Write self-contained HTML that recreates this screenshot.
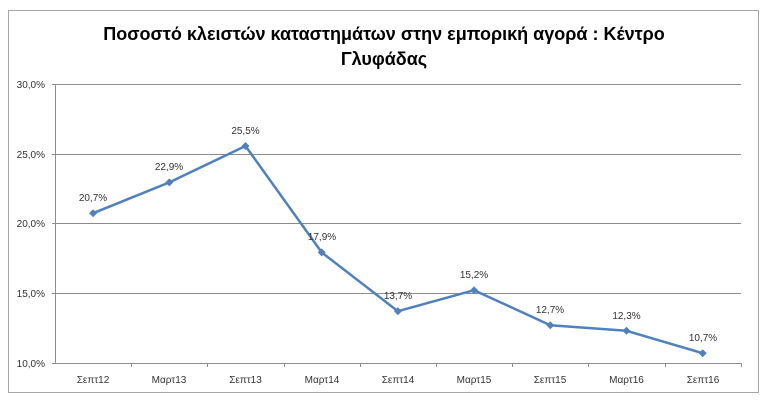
<!DOCTYPE html>
<html><head><meta charset="utf-8"><style>body{margin:0;background:#fff}svg{display:block}</style></head><body>
<svg width="768" height="412" xmlns="http://www.w3.org/2000/svg" font-family="Liberation Sans, DejaVu Sans, sans-serif">
<rect x="0" y="0" width="768" height="412" fill="#fff"/>
<rect x="8.5" y="10.5" width="750" height="382" fill="#fff" stroke="#a6a6a6" stroke-width="1"/>
<text x="384" y="40" text-anchor="middle" font-size="18" font-weight="bold" fill="#000">Ποσοστό κλειστών καταστημάτων στην εμπορική αγορά : Κέντρο</text>
<text x="384" y="65" text-anchor="middle" font-size="18" font-weight="bold" fill="#000">Γλυφάδας</text>
<g stroke="#8c8c8c" stroke-width="1">
<line x1="52" y1="84.5" x2="741" y2="84.5"/>
<line x1="52" y1="154.5" x2="741" y2="154.5"/>
<line x1="52" y1="223.5" x2="741" y2="223.5"/>
<line x1="52" y1="293.5" x2="741" y2="293.5"/>
<line x1="52" y1="363.5" x2="741" y2="363.5"/>
<line x1="55.5" y1="84" x2="55.5" y2="363"/>
<line x1="131.5" y1="363" x2="131.5" y2="367"/><line x1="207.5" y1="363" x2="207.5" y2="367"/><line x1="284.5" y1="363" x2="284.5" y2="367"/><line x1="360.5" y1="363" x2="360.5" y2="367"/><line x1="436.5" y1="363" x2="436.5" y2="367"/><line x1="512.5" y1="363" x2="512.5" y2="367"/><line x1="588.5" y1="363" x2="588.5" y2="367"/><line x1="665.5" y1="363" x2="665.5" y2="367"/><line x1="741.5" y1="363" x2="741.5" y2="367"/>
</g>
<g font-size="10" fill="#333" text-anchor="end">
<text x="45" y="88">30,0%</text><text x="45" y="158">25,0%</text><text x="45" y="227">20,0%</text><text x="45" y="297">15,0%</text><text x="45" y="367">10,0%</text>
</g>
<g font-size="10" fill="#333" text-anchor="middle">
<text x="93" y="383">Σεπτ12</text><text x="169" y="383">Μαρτ13</text><text x="245.5" y="383">Σεπτ13</text><text x="322" y="383">Μαρτ14</text><text x="398" y="383">Σεπτ14</text><text x="474" y="383">Μαρτ15</text><text x="550" y="383">Σεπτ15</text><text x="626.5" y="383">Μαρτ16</text><text x="703" y="383">Σεπτ16</text>
</g>
<polyline fill="none" stroke="#4f81bd" stroke-width="2.5" stroke-linejoin="round" points="93.1,213.2 169.3,182.4 245.5,146 321.7,252.4 397.9,311.2 474.1,290.2 550.3,325.2 626.5,330.8 702.7,353.2"/>
<g fill="#4f81bd">
<path d="M93.1,209.2l4,4l-4,4l-4,-4z"/><path d="M169.3,178.4l4,4l-4,4l-4,-4z"/><path d="M245.5,142l4,4l-4,4l-4,-4z"/><path d="M321.7,248.4l4,4l-4,4l-4,-4z"/><path d="M397.9,307.2l4,4l-4,4l-4,-4z"/><path d="M474.1,286.2l4,4l-4,4l-4,-4z"/><path d="M550.3,321.2l4,4l-4,4l-4,-4z"/><path d="M626.5,326.8l4,4l-4,4l-4,-4z"/><path d="M702.7,349.2l4,4l-4,4l-4,-4z"/>
</g>
<g font-size="10" fill="#333" text-anchor="middle">
<text x="93" y="201">20,7%</text><text x="169" y="170">22,9%</text><text x="245.5" y="134">25,5%</text><text x="322" y="240">17,9%</text><text x="398" y="299">13,7%</text><text x="474" y="278">15,2%</text><text x="550" y="313">12,7%</text><text x="626.5" y="319">12,3%</text><text x="703" y="341">10,7%</text>
</g>
</svg>
</body></html>
